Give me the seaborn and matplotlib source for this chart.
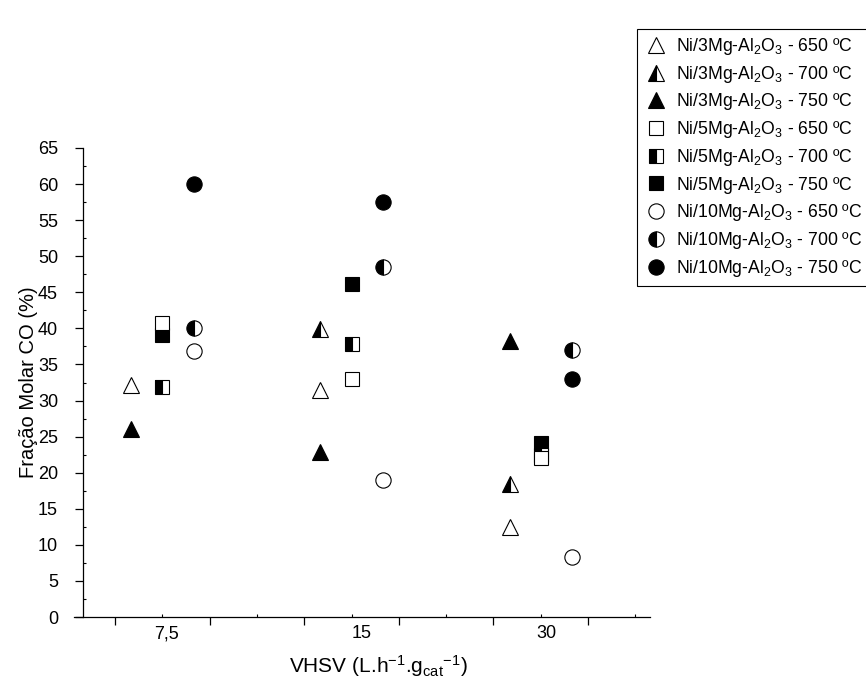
import numpy as np
import matplotlib
matplotlib.use("Agg")
import matplotlib.pyplot as plt
from matplotlib.ticker import MultipleLocator, FixedLocator
import seaborn as sns

# ---------------- data ----------------
vhsv_labels = ["7,5", "15", "30"]
catalysts = ["Ni/3Mg-Al$_2$O$_3$", "Ni/5Mg-Al$_2$O$_3$", "Ni/10Mg-Al$_2$O$_3$"]
temps = ["650 ºC", "700 ºC", "750 ºC"]

mg3_650 = [32.2, 31.5, 12.5]
mg3_700 = [np.nan, 39.9, 18.5]
mg3_750 = [26.0, 22.8, 38.3]
mg5_650 = [40.8, 33.0, 22.1]
mg5_700 = [31.9, 37.8, 22.4]
mg5_750 = [39.1, 46.1, 24.1]
mg10_650 = [36.9, 19.0, 8.3]
mg10_700 = [40.1, 48.5, 37.0]
mg10_750 = [60.0, 57.5, 33.0]

values = {
    (0, 0): mg3_650, (0, 1): mg3_700, (0, 2): mg3_750,
    (1, 0): mg5_650, (1, 1): mg5_700, (1, 2): mg5_750,
    (2, 0): mg10_650, (2, 1): mg10_700, (2, 2): mg10_750,
}

# ---------------- style ----------------
sns.set_theme(style="ticks")
plt.rcParams["font.family"] = ["Liberation Sans", "DejaVu Sans"]
plt.rcParams["mathtext.default"] = "regular"
for k in ["text.color", "axes.labelcolor", "xtick.color", "ytick.color", "axes.edgecolor"]:
    plt.rcParams[k] = "black"

W, H = 866, 678
fig = plt.figure(figsize=(W / 100, H / 100), dpi=100)
ax = fig.add_axes([74 / W, 1 - 617 / H, 576 / W, 469 / H])

group_centers = [1.5 + 2 * i for i in range(len(vhsv_labels))]
offsets = [-0.33, 0.0, 0.33]
marker_shapes = ["^", "s", "o"]
marker_sizes = [12, 9.5, 11]

handles = {}
for c in range(3):
    xs = [g + offsets[c] for g in group_centers]
    for t in [2, 1, 0]:  # draw 750 first so 650 sits on top
        ys = values[(c, t)]
        if t == 0:
            fs, mfc = "full", "white"
        elif t == 1:
            fs, mfc = "left", "black"
        else:
            fs, mfc = "full", "black"
        sns.lineplot(x=xs, y=ys, ax=ax, errorbar=None, sort=False,
                     linestyle="", marker=marker_shapes[c],
                     markersize=marker_sizes[c], fillstyle=fs,
                     markerfacecolor=mfc, markerfacecoloralt="white",
                     markeredgecolor="black", markeredgewidth=0.8,
                     color="black")
        handles[(c, t)] = ax.lines[-1]

if ax.get_legend() is not None:
    ax.get_legend().remove()

# ---------------- axes ----------------
ax.set_xlim(0.5666, 6.655)
ax.set_ylim(0, 65)
for s in ["top", "right"]:
    ax.spines[s].set_visible(False)
for s in ["left", "bottom"]:
    ax.spines[s].set_linewidth(0.9)
ax.spines["left"].set_position(("data", 0.662))

ax.yaxis.set_major_locator(MultipleLocator(5))
ax.yaxis.set_minor_locator(MultipleLocator(2.5))
ax.tick_params(axis="y", which="major", direction="out", length=6, width=0.9,
               pad=12, labelsize=13)
ax.tick_params(axis="y", which="minor", direction="in", length=2.5, width=0.8)

ax.xaxis.set_major_locator(FixedLocator([1, 2, 3, 4, 5, 6]))
ax.xaxis.set_minor_locator(FixedLocator([1.5, 2.5, 3.5, 4.5, 5.5, 6.5]))
ax.set_xticklabels([])
ax.tick_params(axis="x", which="major", direction="out", length=6, width=0.9)
ax.tick_params(axis="x", which="minor", direction="in", length=2, width=0.8)

sec = ax.secondary_xaxis("bottom")
sec.set_xticks([1.54, 3.61, 5.56], labels=vhsv_labels)
sec.tick_params(length=0, pad=6, labelsize=13)
sec.spines["bottom"].set_visible(False)

ax.set_ylabel("Fração Molar CO (%)", fontsize=14.5)
ax.yaxis.set_label_coords(-0.062, 0.5)
ax.set_xlabel("VHSV (L.h$^{-1}$.g$_{cat}$$^{-1}$)", fontsize=15)
ax.xaxis.set_label_coords(0.528, -0.078)

# ---------------- legend ----------------
leg_handles = []
leg_labels = []
for c in range(3):
    for t in range(3):
        leg_handles.append(handles[(c, t)])
        leg_labels.append(f"{catalysts[c]} - {temps[t]}")

leg = fig.legend(leg_handles, leg_labels, loc="upper left",
                 bbox_to_anchor=(637 / W, 1 - 29 / H), borderaxespad=0,
                 frameon=True, fancybox=False, edgecolor="black", framealpha=1,
                 fontsize=12.7, borderpad=0.4, handlelength=1.4,
                 handletextpad=0.4, labelspacing=0.38, numpoints=1)
leg.get_frame().set_linewidth(0.8)

fig.savefig("out.png", dpi=100)
